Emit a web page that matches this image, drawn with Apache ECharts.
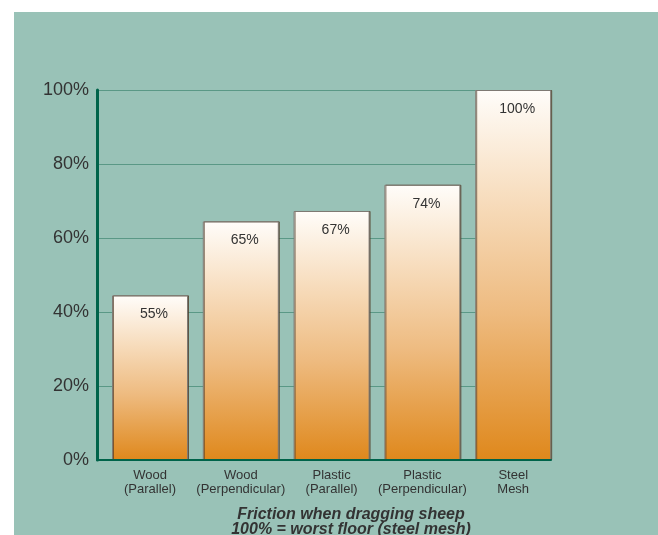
<!DOCTYPE html>
<html><head><meta charset="utf-8">
<script src="https://cdn.jsdelivr.net/npm/echarts@6/dist/echarts.min.js"></script>
<style>html,body{margin:0;padding:0;background:#fff}#c{width:658px;height:535px}</style>
</head><body><div id="c"></div>
<script>
var categories = ["Wood\n(Parallel)", "Wood\n(Perpendicular)", "Plastic\n(Parallel)", "Plastic\n(Perpendicular)", "Steel\nMesh"];
var barValues = [44.5, 64.5, 67.3, 74.4, 100];
var valueLabels = ["55%", "65%", "67%", "74%", "100%"];
var yTicks = [0, 20, 40, 60, 80, 100];
var titleLines = ["Friction when dragging sheep", "100% = worst floor (steel mesh)"];

var chart = echarts.init(document.getElementById('c'));
var TXT = '#333333';
var FONT = 'Liberation Sans, Arial, sans-serif';
chart.setOption({
  backgroundColor: '#ffffff',
  animation: false,
  graphic: [{type: 'rect', z: -10, silent: true, shape: {x: 14, y: 12, width: 644, height: 523}, style: {fill: '#99c2b7'}}],
  title: {
    text: titleLines.join('\n'),
    left: 346, top: 502, textAlign: 'center',
    textStyle: {fontFamily: FONT, fontSize: 16, fontWeight: 'bold', fontStyle: 'italic', color: TXT, lineHeight: 15}
  },
  grid: [
    {left: 104.6, width: 454, top: 90, bottom: 75},
    {left: 97, width: 454, top: 90, bottom: 75}
  ],
  xAxis: [
    {gridIndex: 0, type: 'category', data: categories, boundaryGap: true,
     axisLine: {show: false}, axisTick: {show: false},
     axisLabel: {fontFamily: FONT, fontSize: 13, lineHeight: 14, color: TXT, margin: 8, interval: 0}},
    {gridIndex: 1, type: 'category', data: categories, axisTick: {show: false}, axisLabel: {show: false},
     axisLine: {show: true, lineStyle: {color: '#00634a', width: 2}}, z: 5}
  ],
  yAxis: [
    {gridIndex: 0, type: 'value', min: 0, max: 100, interval: 20, show: false},
    {gridIndex: 1, type: 'value', min: yTicks[0], max: yTicks[yTicks.length - 1], interval: 20,
     axisLine: {show: true, lineStyle: {color: '#00634a', width: 3}},
     axisTick: {show: false},
     axisLabel: {formatter: '{value}%', fontFamily: FONT, fontSize: 18, color: TXT, margin: 8},
     splitLine: {show: true, lineStyle: {color: '#5a9886', width: 1}}}
  ],
  series: [{
    type: 'bar', xAxisIndex: 0, yAxisIndex: 0, data: barValues, barWidth: 76, z: 3,
    itemStyle: {
      color: new echarts.graphic.LinearGradient(0, 0, 0, 1, [
        {offset: 0, color: '#fffdfa'}, {offset: 0.3, color: '#f7dcbc'},
        {offset: 0.6, color: '#eebb80'}, {offset: 1, color: '#df881c'}]),
      borderColor: '#7f7a74', borderWidth: 1,
      shadowColor: 'rgba(80,60,40,0.7)', shadowOffsetX: 1, shadowOffsetY: 0, shadowBlur: 0
    },
    label: {show: true, position: 'insideTop', distance: 12, offset: [4, 0],
      formatter: function (p) { return valueLabels[p.dataIndex]; },
      fontFamily: FONT, fontSize: 14, color: TXT}
  }]
});
</script></body></html>
